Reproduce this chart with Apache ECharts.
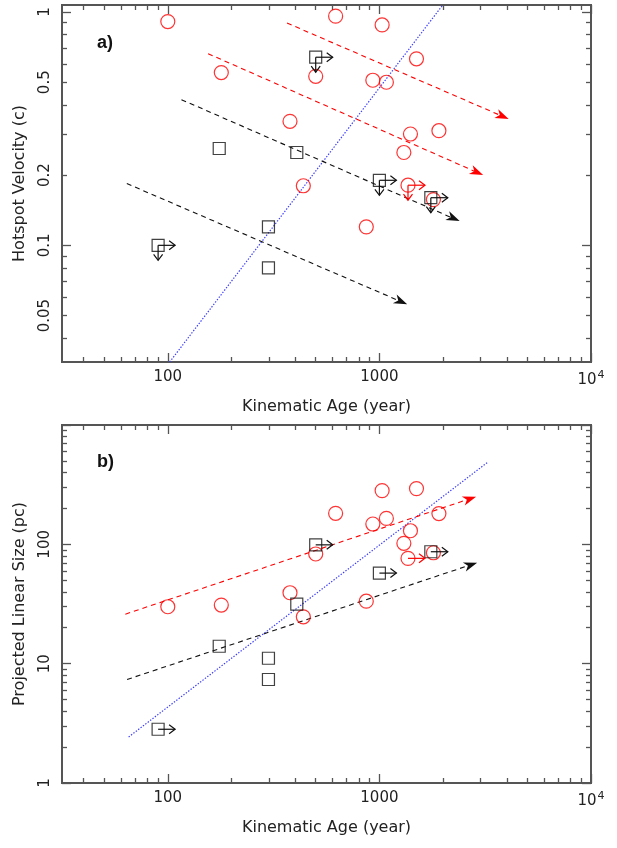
<!DOCTYPE html>
<html>
<head>
<meta charset="utf-8">
<script src="https://cdn.jsdelivr.net/npm/echarts@6/dist/echarts.min.js"></script>
<style>
  html, body { margin: 0; padding: 0; background: #fff; }
  #chart { width: 617px; height: 848px; }
</style>
</head>
<body>
<div id="chart"></div>
<script>
// ---- Sources shown as red circles (age in years, velocity in c, size in pc)
const redAge  = [100, 179, 378, 437, 621, 1030, 1497, 500, 931, 1079, 1402, 1911, 1305, 1800, 867];
const redVel  = [0.91, 0.55, 0.34, 0.18, 0.96, 0.88, 0.63, 0.53, 0.51, 0.50, 0.30, 0.31, 0.25, 0.157, 0.12];
const redSize = [30, 31, 39.3, 24.7, 182, 282, 293, 83, 148, 165, 130, 181, 102, 85, 33.4];
// red source with limits only
const redLimAge  = [1365];
const redLimVel  = [0.181];
const redLimSize = [76.3];

// ---- Sources shown as black squares
const blackAge  = [175, 407, 299, 299];
const blackVel  = [0.26, 0.25, 0.12, 0.08];
const blackSize = [14, 31.6, 11.1, 7.37];
// black sources with limits only
const blackLimAge  = [90, 500, 1000, 1750];
const blackLimVel  = [0.1, 0.64, 0.19, 0.16];
const blackLimSize = [2.82, 99, 57.4, 86.7];

// ---- Evolutionary tracks [startAge, startValue, endAge, endValue]
const velTracksBlack = [[64, 0.184, 1353, 0.0559], [116, 0.421, 2395, 0.127]];
const velTracksRed   = [[155, 0.663, 3092, 0.20], [366, 0.897, 4084, 0.348]];
const sizeTracksRed   = [[63, 26, 2864, 251]];
const sizeTracksBlack = [[64.2, 7.37, 2897, 70.2]];
// ---- Fitted relations [age, value] end points
const velFit  = [[102, 0.0316], [1990, 1.07]];
const sizeFit = [[65.3, 2.43], [3252, 488]];

// ---- Tick labels
const ageTicks = [100, 1000, 10000];
const ageTickLabels = ['100', '1000', '10{sup|4}'];
const velTicks = [0.05, 0.1, 0.2, 0.5, 1];
const velTickLabels = ['0.05', '0.1', '0.2', '0.5', '1'];
const sizeTicks = [1, 10, 100];
const sizeTickLabels = ['1', '10', '100'];

const lg = Math.log10;
const FONT = 'DejaVu Sans';
const FRAME = '#555';

// decade and sub-decade tick positions (log space) inside [lo, hi]
function decadeTicks(lo, hi) {
  const out = [];
  for (let d = Math.floor(lo); d <= Math.ceil(hi); d++) if (d >= lo - 1e-9 && d <= hi + 1e-9) out.push(d);
  return out;
}
function subTicks(lo, hi) {
  const out = [];
  for (let d = Math.floor(lo); d <= Math.ceil(hi); d++) {
    for (let k = 2; k <= 9; k++) {
      const v = d + lg(k);
      if (v > lo + 1e-9 && v < hi - 1e-9) out.push(v);
    }
  }
  return out;
}
function labelFormatter(ticks, labels) {
  return function (v) {
    for (let i = 0; i < ticks.length; i++) if (Math.abs(lg(ticks[i]) - v) < 1e-6) return labels[i];
    return '';
  };
}

function makeAxis(dim, gridIndex, position, min, max, tickVals, tickLen, label, name) {
  const a = {
    type: 'value', gridIndex, position, min, max,
    axisLine: { show: true, onZero: false, lineStyle: { color: FRAME, width: 2 } },
    axisTick: { show: true, inside: true, length: tickLen, customValues: tickVals,
                lineStyle: { color: FRAME, width: 1.3 } },
    splitLine: { show: false },
    axisLabel: { show: false }
  };
  if (label) {
    a.axisLabel = {
      show: true, customValues: label.ticks.map(lg),
      formatter: labelFormatter(label.ticks, label.labels),
      fontFamily: FONT, fontSize: 15, color: '#222', margin: label.margin,
      rotate: dim === 'y' ? 90 : 0,
      rich: { sup: { fontFamily: FONT, fontSize: 11, color: '#222', padding: [0, 0, 10, 1] } }
    };
  }
  if (name) {
    a.name = name.text;
    a.nameLocation = 'middle';
    a.nameGap = name.gap;
    a.nameTextStyle = { fontFamily: FONT, fontSize: 16, color: '#222' };
  }
  return a;
}

function axesFor(dim, gridIndex, lo, hi, label, name) {
  const pos = dim === 'x' ? ['bottom', 'top'] : ['left', 'right'];
  const major = decadeTicks(lo, hi), minor = subTicks(lo, hi);
  return [
    makeAxis(dim, gridIndex, pos[0], lo, hi, major, 9, label, name),
    makeAxis(dim, gridIndex, pos[0], lo, hi, minor, 5),
    makeAxis(dim, gridIndex, pos[1], lo, hi, major, 9),
    makeAxis(dim, gridIndex, pos[1], lo, hi, minor, 5)
  ];
}

const X_LO = 1.5, X_HI = 4;
const VA_LO = -1.5, VA_HI = 0.03;
const SB_LO = 0, SB_HI = 3;

const xAxes = [
  ...axesFor('x', 0, X_LO, X_HI, { ticks: ageTicks, labels: ageTickLabels, margin: 8 },
             { text: 'Kinematic Age (year)', gap: 37 }),
  ...axesFor('x', 1, X_LO, X_HI, { ticks: ageTicks, labels: ageTickLabels, margin: 8 },
             { text: 'Kinematic Age (year)', gap: 37 })
];
const yAxes = [
  ...axesFor('y', 0, VA_LO, VA_HI, { ticks: velTicks, labels: velTickLabels, margin: 9 },
             { text: 'Hotspot Velocity (c)', gap: 34 }),
  ...axesFor('y', 1, SB_LO, SB_HI, { ticks: sizeTicks, labels: sizeTickLabels, margin: 9 },
             { text: 'Projected Linear Size (pc)', gap: 34 })
];

// dashed track ending in a filled arrow head
function trackRender(params, api) {
  const p1 = api.coord([api.value(0), api.value(1)]);
  const p2 = api.coord([api.value(2), api.value(3)]);
  const dx = p2[0] - p1[0], dy = p2[1] - p1[1];
  const len = Math.hypot(dx, dy) || 1;
  const ux = dx / len, uy = dy / len;
  const L = 13.5, W = 4.8;
  const back = [p2[0] - ux * L, p2[1] - uy * L];
  const notch = [p2[0] - ux * L * 0.72, p2[1] - uy * L * 0.72];
  const color = api.visual('color');
  return {
    type: 'group',
    children: [
      { type: 'line', shape: { x1: p1[0], y1: p1[1], x2: notch[0], y2: notch[1] },
        style: { stroke: color, lineWidth: 1.1, lineDash: [5, 4] } },
      { type: 'polygon',
        shape: { points: [p2, [back[0] - uy * W, back[1] + ux * W], notch, [back[0] + uy * W, back[1] - ux * W]] },
        style: { fill: color } }
    ]
  };
}

// open arrows marking limits: flag 1 = right, 2 = down, 3 = both
function limitRender(params, api) {
  const p = api.coord([api.value(0), api.value(1)]);
  const flag = api.value(2);
  const color = api.visual('color');
  const st = { stroke: color, lineWidth: 1.2, fill: null };
  const ch = [];
  if (flag & 1) {
    const e = p[0] + 17;
    ch.push({ type: 'line', shape: { x1: p[0], y1: p[1], x2: e, y2: p[1] }, style: st });
    ch.push({ type: 'polyline', shape: { points: [[e - 6, p[1] - 4.5], [e, p[1]], [e - 6, p[1] + 4.5]] }, style: st });
  }
  if (flag & 2) {
    const e = p[1] + 15;
    ch.push({ type: 'line', shape: { x1: p[0], y1: p[1], x2: p[0], y2: e }, style: st });
    ch.push({ type: 'polyline', shape: { points: [[p[0] - 4.5, e - 6], [p[0], e], [p[0] + 4.5, e - 6]] }, style: st });
  }
  return { type: 'group', children: ch };
}

function pts(xs, ys) { return xs.map((x, i) => [lg(x), lg(ys[i])]); }
function segs(list) { return list.map(s => [lg(s[0]), lg(s[1]), lg(s[2]), lg(s[3])]); }
function limits(xs, ys, flag) { return xs.map((x, i) => [lg(x), lg(ys[i]), flag]); }

function trackSeries(data, color, xi, yi) {
  return { type: 'custom', xAxisIndex: xi, yAxisIndex: yi, renderItem: trackRender,
           itemStyle: { color }, encode: { x: [0, 2], y: [1, 3] }, data: segs(data), clip: true, z: 2 };
}
function fitSeries(data, xi, yi) {
  return { type: 'line', xAxisIndex: xi, yAxisIndex: yi, symbol: 'none', clip: true, z: 1,
           lineStyle: { color: '#3c3cff', width: 1.2, type: [1.4, 1.6] },
           data: data.map(p => [lg(p[0]), lg(p[1])]) };
}
function markerSeries(data, symbol, size, color, xi, yi) {
  return { type: 'scatter', xAxisIndex: xi, yAxisIndex: yi, symbol, symbolSize: size, z: 3,
           itemStyle: { color: 'rgba(0,0,0,0)', borderColor: color, borderWidth: 1.2 },
           emphasis: { disabled: true }, data };
}
function limitSeries(data, color, xi, yi) {
  return { type: 'custom', xAxisIndex: xi, yAxisIndex: yi, renderItem: limitRender,
           itemStyle: { color }, encode: { x: 0, y: 1 }, data, z: 4 };
}

const RED = '#ff0000', BLACK = '#111';
const series = [
  // panel a
  fitSeries(velFit, 0, 0),
  trackSeries(velTracksBlack, BLACK, 0, 0),
  trackSeries(velTracksRed, RED, 0, 0),
  markerSeries(pts(redAge.concat(redLimAge), redVel.concat(redLimVel)), 'circle', 14, RED, 0, 0),
  markerSeries(pts(blackAge.concat(blackLimAge), blackVel.concat(blackLimVel)), 'rect', 12, BLACK, 0, 0),
  limitSeries(limits(redLimAge, redLimVel, 3), RED, 0, 0),
  limitSeries(limits(blackLimAge, blackLimVel, 3), BLACK, 0, 0),
  // panel b
  fitSeries(sizeFit, 4, 4),
  trackSeries(sizeTracksBlack, BLACK, 4, 4),
  trackSeries(sizeTracksRed, RED, 4, 4),
  markerSeries(pts(redAge.concat(redLimAge), redSize.concat(redLimSize)), 'circle', 14, RED, 4, 4),
  markerSeries(pts(blackAge.concat(blackLimAge), blackSize.concat(blackLimSize)), 'rect', 12, BLACK, 4, 4),
  limitSeries(limits(redLimAge, redLimSize, 1), RED, 4, 4),
  limitSeries(limits(blackLimAge, blackLimSize, 1), BLACK, 4, 4)
];

const chart = echarts.init(document.getElementById('chart'), null, { renderer: 'canvas' });
chart.setOption({
  animation: false,
  backgroundColor: '#fff',
  grid: [
    { left: 62, top: 5, width: 529, height: 357 },
    { left: 62, top: 425, width: 529, height: 358 }
  ],
  xAxis: xAxes,
  yAxis: yAxes,
  graphic: [
    { type: 'text', left: 97, top: 34, style: { text: 'a)', font: 'bold 18px "Liberation Sans", Arial', fill: '#111' } },
    { type: 'text', left: 97, top: 453, style: { text: 'b)', font: 'bold 18px "Liberation Sans", Arial', fill: '#111' } }
  ],
  series
});
</script>
</body>
</html>
